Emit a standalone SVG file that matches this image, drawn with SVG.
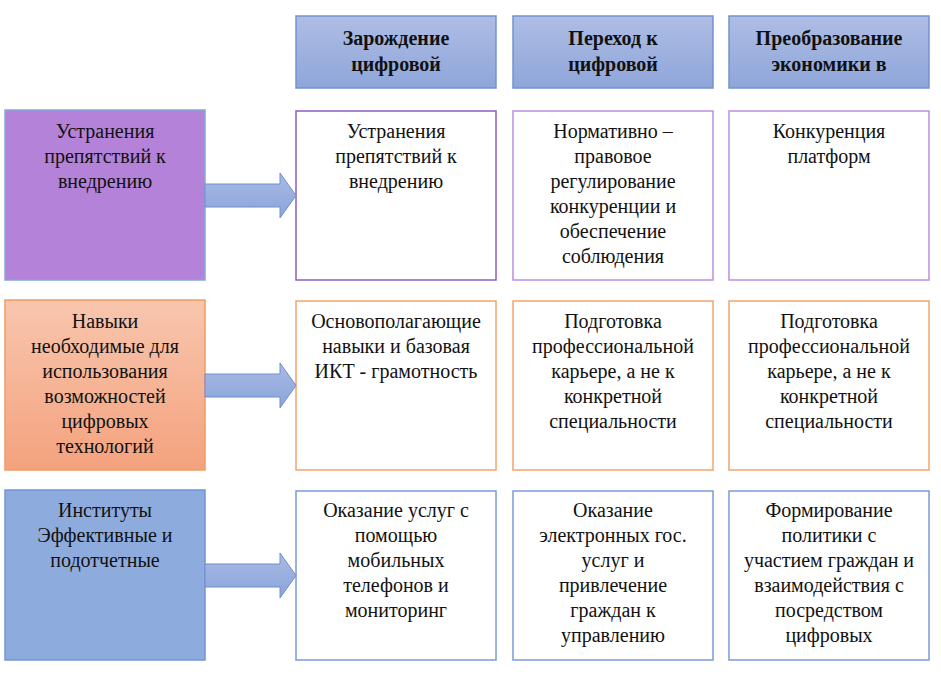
<svg xmlns="http://www.w3.org/2000/svg" width="941" height="676" viewBox="0 0 941 676">
<defs>
<linearGradient id="gHead" x1="0" y1="0" x2="0" y2="1"><stop offset="0" stop-color="#aebde4"/><stop offset="1" stop-color="#8fa6da"/></linearGradient>
<linearGradient id="gPeach" x1="0" y1="0" x2="0" y2="1"><stop offset="0" stop-color="#f8c6ae"/><stop offset="1" stop-color="#f4a27e"/></linearGradient>
<linearGradient id="gArrow" x1="0" y1="0" x2="0" y2="1"><stop offset="0" stop-color="#a9bbe5"/><stop offset="1" stop-color="#8aa3d9"/></linearGradient>
<style>
.head{fill:url(#gHead);stroke:#7392cf;stroke-width:1.5}
.l1{fill:#b482d8;stroke:#86a6dc;stroke-width:1.5}
.l2{fill:url(#gPeach);stroke:#f29a62;stroke-width:1.5}
.l3{fill:#8eabdd;stroke:#7096d6;stroke-width:1.5}
.p1{fill:#fff;stroke:#8c5fbe;stroke-width:1.5}
.p1b{fill:#fff;stroke:#bb8fe2;stroke-width:1.5}
.o{fill:#fff;stroke:#f4a46e;stroke-width:1.5}
.b{fill:#fff;stroke:#7a9bd8;stroke-width:1.5}
.arrow{fill:url(#gArrow);stroke:#6f8fcc;stroke-width:1}
</style>
</defs>
<rect width="941" height="676" fill="#fff"/>
<g font-family="'Liberation Serif', 'DejaVu Serif', serif" font-size="20" fill="#111" text-anchor="middle">

<g id="head1" font-weight="bold"><rect class="head" x="296" y="16" width="200" height="72"/><text x="396" y="45">Зарождение</text><text x="396" y="71">цифровой</text></g>
<g id="head2" font-weight="bold"><rect class="head" x="513" y="16" width="200" height="72"/><text x="613" y="45">Переход к</text><text x="613" y="71">цифровой</text></g>
<g id="head3" font-weight="bold"><rect class="head" x="729" y="16" width="200" height="72"/><text x="829" y="45">Преобразование</text><text x="829" y="71">экономики в</text></g>

<g id="left1"><rect class="l1" x="5" y="110" width="200" height="170"/><text x="105" y="138">Устранения</text><text x="105" y="163">препятствий к</text><text x="105" y="188">внедрению</text></g>
<g id="left2"><rect class="l2" x="5" y="300" width="200" height="170"/><text x="105" y="328">Навыки</text><text x="105" y="353">необходимые для</text><text x="105" y="378">использования</text><text x="105" y="403">возможностей</text><text x="105" y="428">цифровых</text><text x="105" y="453">технологий</text></g>
<g id="left3"><rect class="l3" x="5" y="490" width="200" height="170"/><text x="105" y="517">Институты</text><text x="105" y="542">Эффективные и</text><text x="105" y="567">подотчетные</text></g>

<g id="r1c1"><rect class="p1" x="296" y="111" width="200" height="169"/><text x="396" y="138">Устранения</text><text x="396" y="163">препятствий к</text><text x="396" y="188">внедрению</text></g>
<g id="r1c2"><rect class="p1b" x="513" y="111" width="200" height="169"/><text x="613" y="138">Нормативно –</text><text x="613" y="163">правовое</text><text x="613" y="188">регулирование</text><text x="613" y="213">конкуренции и</text><text x="613" y="238">обеспечение</text><text x="613" y="263">соблюдения</text></g>
<g id="r1c3"><rect class="p1b" x="729" y="111" width="200" height="169"/><text x="829" y="138">Конкуренция</text><text x="829" y="163">платформ</text></g>

<g id="r2c1"><rect class="o" x="296" y="301" width="200" height="169"/><text x="396" y="328">Основополагающие</text><text x="396" y="353">навыки и базовая</text><text x="396" y="378">ИКТ - грамотность</text></g>
<g id="r2c2"><rect class="o" x="513" y="301" width="200" height="169"/><text x="613" y="328">Подготовка</text><text x="613" y="353">профессиональной</text><text x="613" y="378">карьере, а не к</text><text x="613" y="403">конкретной</text><text x="613" y="428">специальности</text></g>
<g id="r2c3"><rect class="o" x="729" y="301" width="200" height="169"/><text x="829" y="328">Подготовка</text><text x="829" y="353">профессиональной</text><text x="829" y="378">карьере, а не к</text><text x="829" y="403">конкретной</text><text x="829" y="428">специальности</text></g>

<g id="r3c1"><rect class="b" x="296" y="491" width="200" height="169"/><text x="396" y="517">Оказание услуг с</text><text x="396" y="542">помощью</text><text x="396" y="567">мобильных</text><text x="396" y="592">телефонов и</text><text x="396" y="617">мониторинг</text></g>
<g id="r3c2"><rect class="b" x="513" y="491" width="200" height="169"/><text x="613" y="517">Оказание</text><text x="613" y="542">электронных гос.</text><text x="613" y="567">услуг и</text><text x="613" y="592">привлечение</text><text x="613" y="617">граждан к</text><text x="613" y="642">управлению</text></g>
<g id="r3c3"><rect class="b" x="729" y="491" width="200" height="169"/><text x="829" y="517">Формирование</text><text x="829" y="542">политики с</text><text x="829" y="567">участием граждан и</text><text x="829" y="592">взаимодействия с</text><text x="829" y="617">посредством</text><text x="829" y="642">цифровых</text></g>
</g>

<g id="connectors">
<path class="arrow" d="M205,184 H280 V173 L296,195.5 L280,218 V207 H205 Z"/>
<path class="arrow" d="M205,374 H280 V363 L296,385.5 L280,408 V397 H205 Z"/>
<path class="arrow" d="M205,564 H280 V553 L296,575.5 L280,598 V587 H205 Z"/>
</g>
</svg>
